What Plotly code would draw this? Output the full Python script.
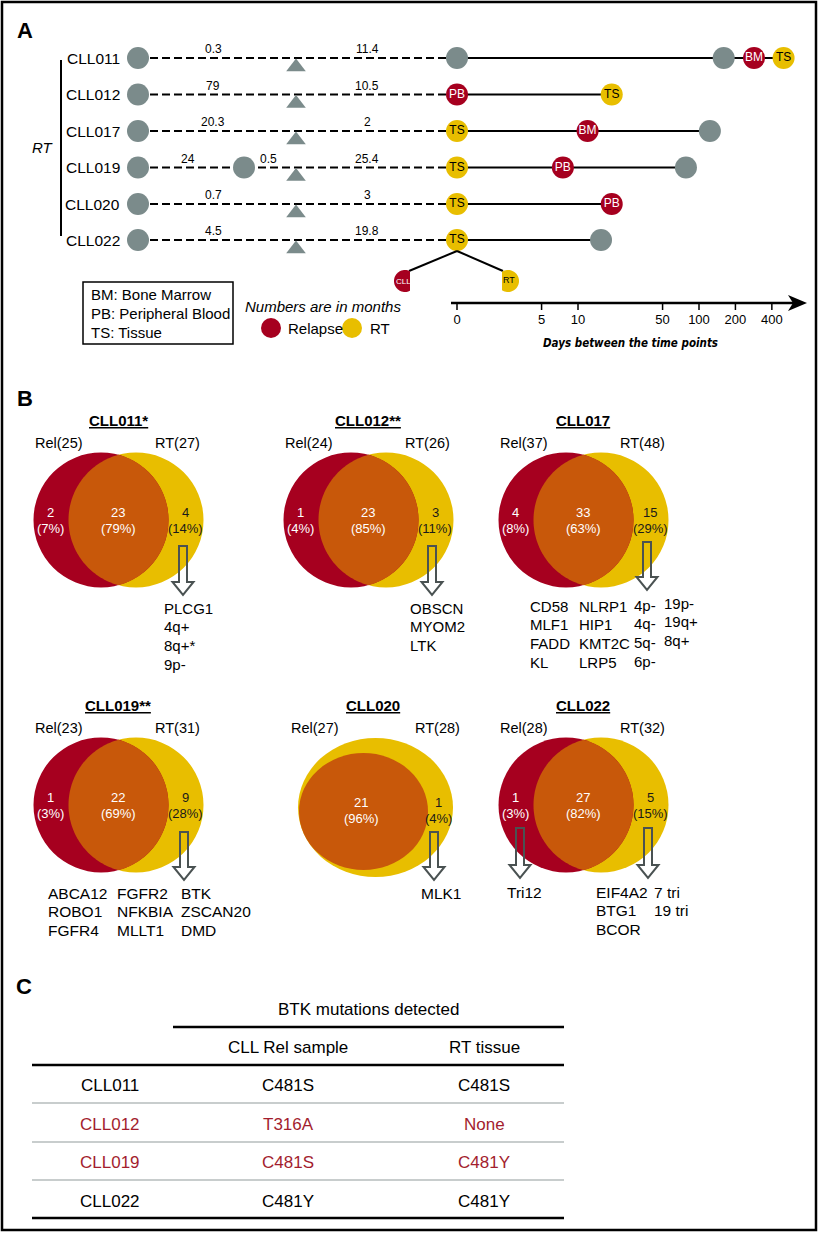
import numpy as np
import plotly.graph_objects as go

# ======================= DATA =======================
# Panel A – timelines
patients = ["CLL011", "CLL012", "CLL017", "CLL019", "CLL020", "CLL022"]
months_first = ["0.3", "79", "20.3", "24", "0.7", "4.5"]
months_second = ["11.4", "10.5", "2", "25.4", "3", "19.8"]
cll019_mid_months = "0.5"
event_days = [[0, 160, 285, 500], [0, 19], [0, 12, 123], [0, 7.5, 78], [0, 19], [0, 15.5]]
event_kind = [["gray", "gray", "rel", "rt"], ["rel", "rt"], ["rt", "rel", "gray"],
              ["rt", "rel", "gray"], ["rt", "rel"], ["rt", "gray"]]
event_text = [["", "", "BM", "TS"], ["PB", "TS"], ["TS", "BM", ""], ["TS", "PB", ""],
              ["TS", "PB"], ["TS", ""]]
axis_days = [0, 5, 10, 50, 100, 200, 400]
axis_title = "Days between the time points"
legend_lines = ["BM: Bone Marrow", "PB: Peripheral Blood", "TS: Tissue"]

# Panel B – Venn diagrams
venn_names = ["CLL011*", "CLL012**", "CLL017", "CLL019**", "CLL020", "CLL022"]
rel_total = [25, 24, 37, 23, 27, 28]
rt_total = [27, 26, 48, 31, 28, 32]
rel_only = [2, 1, 4, 1, None, 1]
shared = [23, 23, 33, 22, 21, 27]
rt_only = [4, 3, 15, 9, 1, 5]
rel_only_pct = [7, 4, 8, 3, None, 3]
shared_pct = [79, 85, 63, 69, 96, 82]
rt_only_pct = [14, 11, 29, 28, 4, 15]
rt_genes = [
    [["PLCG1", "4q+", "8q+*", "9p-"]],
    [["OBSCN", "MYOM2", "LTK"]],
    [["CD58", "MLF1", "FADD", "KL"], ["NLRP1", "HIP1", "KMT2C", "LRP5"],
     ["4p-", "4q-", "5q-", "6p-"], ["19p-", "19q+", "8q+"]],
    [["ABCA12", "ROBO1", "FGFR4"], ["FGFR2", "NFKBIA", "MLLT1"], ["BTK", "ZSCAN20", "DMD"]],
    [["MLK1"]],
    [["EIF4A2", "BTG1", "BCOR"], ["7 tri", "19 tri"]],
]
rel_genes = [None, None, None, None, None, [["Tri12"]]]

# Panel C – table
table_title = "BTK mutations detected"
table_header = ["CLL Rel sample", "RT tissue"]
table_patients = ["CLL011", "CLL012", "CLL019", "CLL022"]
table_rel = ["C481S", "T316A", "C481S", "C481Y"]
table_rt = ["C481S", "None", "C481Y", "C481Y"]
table_highlight = [False, True, True, False]

# ======================= STYLE / LAYOUT =======================
W, H = 819, 1233
FONT = "Liberation Sans, Arial, Helvetica, sans-serif"
NARROW = "DejaVu Sans Condensed, Liberation Sans, Arial"
RED = "#A6001F"
YEL = "#E8BE00"
ORG = "#C8580A"
GRAY = "#7B8B8B"
ARROWC = "#4A5252"
TRED = "#A31D2E"

fig = go.Figure()
shapes = []
annotations = []


def text(x, y, s, size=15, color="black", xanchor="center", yanchor="middle", family=FONT):
    annotations.append(dict(x=x, y=y, xref="x", yref="y", text=s, showarrow=False,
                            font=dict(size=size, color=color, family=family),
                            xanchor=xanchor, yanchor=yanchor))


def hline(x0, x1, y, color="black", width=2):
    shapes.append(dict(type="line", xref="x", yref="y", x0=x0, x1=x1, y0=y, y1=y,
                       line=dict(color=color, width=width)))


def path(d, fill="rgba(0,0,0,0)", lc="rgba(0,0,0,0)", lw=0):
    shapes.append(dict(type="path", xref="x", yref="y", path=d, fillcolor=fill,
                       line=dict(color=lc, width=lw)))


def pts_path(xs, ys):
    return "M " + " L ".join(f"{a:.2f},{b:.2f}" for a, b in zip(xs, ys)) + " Z"


# ---------- frame & panel letters ----------
shapes.append(dict(type="rect", xref="x", yref="y", x0=2, x1=816, y0=2, y1=1230,
                   line=dict(color="black", width=2.5)))
text(25, 30, "<b>A</b>", size=22)
text(25, 398, "<b>B</b>", size=22)
text(24, 986, "<b>C</b>", size=22)

# ---------- Panel A ----------
row_y = [58, 94.5, 131, 167.5, 204, 240]
X_START, X_TRI, X_ZERO, X_MID019 = 138, 296, 457, 244
PX_PER_DECADE = 121
seg1_x, seg2_x = 213, 367
MK = 22


def dval(d):
    # day 0 sits at the origin of the log time axis
    return max(d, 1)


kind_color = {"gray": GRAY, "rel": RED, "rt": YEL}
kind_tcolor = {"gray": "white", "rel": "white", "rt": "black"}

# lines first
for i, p in enumerate(patients):
    y = row_y[i]
    fig.add_trace(go.Scatter(x=[X_START, X_ZERO], y=[y, y], mode="lines", xaxis="x", yaxis="y",
                             line=dict(color="black", width=2, dash="8px,4px"), hoverinfo="skip"))
    xs = [dval(d) for d in event_days[i]]
    fig.add_trace(go.Scatter(x=xs, y=[y] * len(xs), mode="lines", xaxis="x2", yaxis="y",
                             line=dict(color="black", width=2), hoverinfo="skip"))

# markers
for i, p in enumerate(patients):
    y = row_y[i]
    sx = [X_START] + ([X_MID019] if p == "CLL019" else [])
    fig.add_trace(go.Scatter(x=sx, y=[y] * len(sx), mode="markers", xaxis="x", yaxis="y",
                             marker=dict(color=GRAY, size=MK, line=dict(width=0)), hoverinfo="skip"))
    fig.add_trace(go.Scatter(x=[X_TRI], y=[y + 9], mode="markers", xaxis="x", yaxis="y",
                             marker=dict(color=GRAY, size=17, symbol="triangle-up", line=dict(width=0)),
                             hoverinfo="skip"))
    xs = [dval(d) for d in event_days[i]]
    fig.add_trace(go.Scatter(x=xs, y=[y] * len(xs), mode="markers+text", xaxis="x2", yaxis="y",
                             marker=dict(color=[kind_color[k] for k in event_kind[i]], size=MK,
                                         line=dict(width=0)),
                             text=event_text[i], textposition="middle center",
                             textfont=dict(family=FONT, size=12,
                                           color=[kind_tcolor[k] for k in event_kind[i]]),
                             hoverinfo="skip"))
    text(122, y, p, size=15.5, xanchor="right")
    if p == "CLL019":
        text(188, y - 9, months_first[i], size=12)
        text(268, y - 9, cll019_mid_months, size=12)
    else:
        text(seg1_x, y - 9, months_first[i], size=12)
    text(seg2_x, y - 9, months_second[i], size=12)

# RT bracket
shapes.append(dict(type="line", xref="x", yref="y", x0=61, x1=61, y0=60, y1=236,
                   line=dict(color="black", width=2)))
text(43, 147, "<i>RT</i>", size=15)

# split of CLL022 TS sample into CLL and RT components
ts_y = row_y[5]
shapes.append(dict(type="line", xref="x", yref="y", x0=X_ZERO, y0=ts_y + 11, x1=409, y1=271,
                   line=dict(color="black", width=2)))
shapes.append(dict(type="line", xref="x", yref="y", x0=X_ZERO, y0=ts_y + 11, x1=503, y1=271,
                   line=dict(color="black", width=2)))
t = np.linspace(0, 2 * np.pi, 120)
cx, cy, r = 405, 281, 11
hx = np.minimum(cx + r * np.cos(t), 410)
path(pts_path(hx, cy + r * np.sin(t)), fill=RED)
cx2 = 508
hx2 = np.maximum(cx2 + r * np.cos(t), 502)
path(pts_path(hx2, cy + r * np.sin(t)), fill=YEL)
text(403, 281, "CLL", size=8, color="white")
text(509, 280, "RT", size=9, color="black")

# time axis
hline(451, 795, 303, width=2.5)
path("M 807,303 L 788,295 L 793,303 L 788,311 Z", fill="black")
tx, ty = [], []
for d in axis_days:
    tx += [dval(d), dval(d), None]
    ty += [303, 310, None]
fig.add_trace(go.Scatter(x=tx, y=ty, mode="lines", xaxis="x2", yaxis="y",
                         line=dict(color="black", width=1.5), hoverinfo="skip"))
fig.add_trace(go.Scatter(x=[dval(d) for d in axis_days], y=[321] * len(axis_days), mode="text",
                         xaxis="x2", yaxis="y", text=[str(d) for d in axis_days],
                         textfont=dict(family=FONT, size=13, color="black"), hoverinfo="skip"))
text(630, 343, f"<b><i>{axis_title}</i></b>", size=11.5, family=NARROW)

# legend box
shapes.append(dict(type="rect", xref="x", yref="y", x0=83, x1=233, y0=282, y1=344,
                   line=dict(color="black", width=1.5)))
for k, s in enumerate(legend_lines):
    text(89, 294 + 19 * k, s, size=15, xanchor="left")
text(323, 306, "<i>Numbers are in months</i>", size=15)
fig.add_trace(go.Scatter(x=[271, 352], y=[328, 328], mode="markers", xaxis="x", yaxis="y",
                         marker=dict(color=[RED, YEL], size=20, line=dict(width=0)), hoverinfo="skip"))
text(286, 328, "Relapse", size=15, xanchor="left")
text(368, 328, "RT", size=15, xanchor="left")

# ---------- Panel B ----------
venn_off = [(0, 0), (250, 0), (465, 0), (0, 285), (250, 285), (465, 285)]
R = 67.5
RED_CX, YEL_CX, CY = 101, 136, 520
arrows = [[(183, 546, 595)], [(432, 546, 595)], [(647, 542, 590)],
          [(184, 832, 880)], [(434, 832, 880)], [(520, 828, 878), (648, 828, 878)]]
gene_x = [[162], [408], [528, 577, 632, 662], [46, 115, 179], [419], [594, 652]]
gene_dy = [[0], [0], [0, 0, -1, -3], [0, 0, 0], [0], [0, 0]]
gene_y0 = [608, 608, 606, 893, 893, 892]
gene_size = [15, 15, 15, 15.5, 15.5, 15.5]
rel_gene_x = [None, None, None, None, None, [505]]
LINE_H = 18.7


def lens_path(x1, x2, cyy, rr, n=80):
    d = x2 - x1
    a = np.arccos(d / 2 / rr)
    t1 = np.linspace(-a, a, n)
    t2 = np.linspace(np.pi - a, np.pi + a, n)
    xs = np.concatenate([x1 + rr * np.cos(t1), x2 + rr * np.cos(t2)])
    ys = np.concatenate([cyy + rr * np.sin(t1), cyy + rr * np.sin(t2)])
    return pts_path(xs, ys)


def hollow_arrow(x, y0, y1):
    sw, hw, hh = 4, 10.5, 13
    d = (f"M {x - sw},{y0} L {x + sw},{y0} L {x + sw},{y1 - hh} L {x + hw},{y1 - hh} "
         f"L {x},{y1} L {x - hw},{y1 - hh} L {x - sw},{y1 - hh} Z")
    path(d, fill="rgba(0,0,0,0)", lc=ARROWC, lw=2)


for v, name in enumerate(venn_names):
    ox, oy = venn_off[v]
    cyy = CY + oy
    if name == "CLL020":
        # Rel fully contained in RT
        shapes.append(dict(type="circle", xref="x", yref="y", x0=ox + 125.5 - 77.5, x1=ox + 125.5 + 77.5,
                           y0=oy + 522.5 - 69.5, y1=oy + 522.5 + 69.5, fillcolor=YEL, line=dict(width=0)))
        shapes.append(dict(type="circle", xref="x", yref="y", x0=ox + 113.5 - 64.5, x1=ox + 113.5 + 64.5,
                           y0=oy + 526.5 - 58.5, y1=oy + 526.5 + 58.5, fillcolor=ORG, line=dict(width=0)))
        title_x, rel_x, rt_x = ox + 123, ox + 65, ox + 187
        mid_x, right_x = ox + 111, ox + 188
    else:
        rx, yx = RED_CX + ox, YEL_CX + ox
        shapes.append(dict(type="circle", xref="x", yref="y", x0=yx - R, x1=yx + R, y0=cyy - R, y1=cyy + R,
                           fillcolor=YEL, line=dict(width=0)))
        shapes.append(dict(type="circle", xref="x", yref="y", x0=rx - R, x1=rx + R, y0=cyy - R, y1=cyy + R,
                           fillcolor=RED, line=dict(width=0)))
        path(lens_path(rx, yx, cyy, R), fill=ORG)
        title_x, rel_x, rt_x = ox + 118, ox + 59, ox + 177
        mid_x, right_x = ox + 118, ox + 185
    text(title_x, 420 + oy, f"<b><u>{name}</u></b>", size=15)
    text(rel_x, 443 + oy, f"Rel({rel_total[v]})", size=14.5)
    text(rt_x, 443 + oy, f"RT({rt_total[v]})", size=14.5)
    ny, py = 512 + oy, 528 + oy
    if name == "CLL020":
        ny, py = 802, 818
    if rel_only[v] is not None:
        text(ox + 50, ny, str(rel_only[v]), size=13, color="white")
        text(ox + 50, py, f"({rel_only_pct[v]}%)", size=13, color="white")
    text(mid_x, ny, str(shared[v]), size=13, color="white")
    text(mid_x, py, f"({shared_pct[v]}%)", size=13, color="white")
    text(right_x, ny, str(rt_only[v]), size=13, color="#1a1a1a")
    text(right_x, py, f"({rt_only_pct[v]}%)", size=13, color="#1a1a1a")
    for a in arrows[v]:
        hollow_arrow(*a)
    for c, col in enumerate(rt_genes[v]):
        for k, g in enumerate(col):
            text(gene_x[v][c], gene_y0[v] + gene_dy[v][c] + LINE_H * k, g, size=gene_size[v],
                 xanchor="left")
    if rel_genes[v] is not None:
        for c, col in enumerate(rel_genes[v]):
            for k, g in enumerate(col):
                text(rel_gene_x[v][c], gene_y0[v] + LINE_H * k, g, size=gene_size[v], xanchor="left")

# ---------- Panel C ----------
col_x = [110, 288, 484]
text(368, 1009, table_title, size=17)
hline(173, 564, 1027, width=2.5)
text(col_x[1], 1047, table_header[0], size=17)
text(col_x[2], 1047, table_header[1], size=17)
hline(32, 564, 1065, width=2.5)
row_ty = [1085, 1124, 1162, 1201]
for k, p in enumerate(table_patients):
    c = TRED if table_highlight[k] else "black"
    text(col_x[0], row_ty[k], p, size=17, color=c)
    text(col_x[1], row_ty[k], table_rel[k], size=17, color=c)
    text(col_x[2], row_ty[k], table_rt[k], size=17, color=c)
for yl in [1103, 1142, 1180]:
    hline(32, 564, yl, color="#C8CDCD", width=2)
hline(32, 564, 1218, width=2.5)

# ======================= LAYOUT =======================
log_left = -X_ZERO / PX_PER_DECADE
log_right = (W - X_ZERO) / PX_PER_DECADE
fig.update_layout(
    width=W, height=H, margin=dict(l=0, r=0, t=0, b=0),
    paper_bgcolor="white", plot_bgcolor="white", showlegend=False,
    xaxis=dict(range=[0, W], visible=False, fixedrange=True),
    xaxis2=dict(type="log", range=[log_left, log_right], overlaying="x", visible=False,
                fixedrange=True),
    yaxis=dict(range=[H, 0], visible=False, fixedrange=True),
    shapes=shapes, annotations=annotations,
    font=dict(family=FONT),
)
fig.write_html("out.html", config={"displayModeBar": False, "staticPlot": True},
               post_script="document.body.style.margin='0';document.body.style.overflow='hidden';")
